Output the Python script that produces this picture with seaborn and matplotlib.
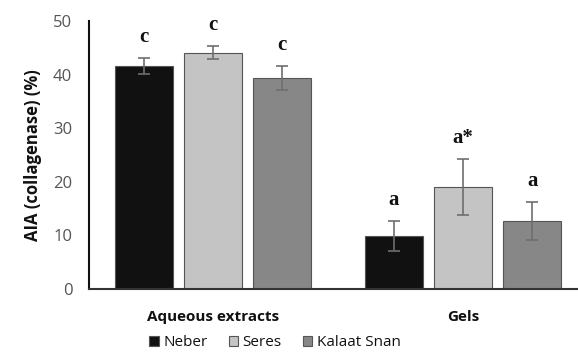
import matplotlib
matplotlib.use("Agg")
import matplotlib.pyplot as plt
import seaborn as sns
import pandas as pd
import numpy as np

groups = ["Aqueous extracts", "Gels"]
varieties = ["Neber", "Seres", "Kalaat Snan"]
means = {"Neber": [41.6, 9.9], "Seres": [44.1, 19.0], "Kalaat Snan": [39.4, 12.7]}
errs = {"Neber": [1.5, 2.8], "Seres": [1.2, 5.2], "Kalaat Snan": [2.2, 3.5]}
letters = {"Neber": ["c", "a"], "Seres": ["c", "a*"], "Kalaat Snan": ["c", "a"]}
colors = {"Neber": "#111111", "Seres": "#c4c4c4", "Kalaat Snan": "#878787"}

rows = []
for v in varieties:
    for i, g in enumerate(groups):
        rows.append({"group": g, "variety": v, "value": means[v][i]})
df = pd.DataFrame(rows)

sns.set_style("white")
plt.rcParams["font.family"] = ["Open Sans", "DejaVu Sans"]

fig = plt.figure(figsize=(5.78, 3.55), dpi=100)
ax = fig.add_axes([0.154, 0.186, 0.846, 0.755])

sns.barplot(data=df, x="group", y="value", hue="variety", order=groups,
            hue_order=varieties, palette=colors, width=0.83, gap=0.17,
            edgecolor="#555555", linewidth=0.8, errorbar=None, ax=ax, legend=True)

# error bars and letters
for j, v in enumerate(varieties):
    cont = ax.containers[j]
    for i, p in enumerate(cont.patches):
        xc = p.get_x() + p.get_width() / 2
        h = p.get_height()
        ax.errorbar(xc, h, yerr=errs[v][i], color="#6e6e6e", capsize=4,
                    elinewidth=1.2, capthick=1.2, zorder=5)
        ax.annotate(letters[v][i], (xc, h + errs[v][i]), xytext=(0, 8),
                    textcoords="offset points", ha="center", va="bottom",
                    fontsize=15, fontweight="bold", family="Liberation Serif",
                    color="#111111")

ax.set_ylim(0, 50)
ax.set_yticks([0, 10, 20, 30, 40, 50])
ax.set_xlim(-0.496, 1.46)
ax.set_xlabel("")
ax.set_ylabel("AIA (collagenase) (%)", fontsize=12, fontweight="bold", color="#111111", labelpad=8)
for s in ["top", "right"]:
    ax.spines[s].set_visible(False)
ax.spines["left"].set_color("#111111")
ax.spines["bottom"].set_color("#333333")
ax.spines["left"].set_linewidth(1.5)
ax.spines["bottom"].set_linewidth(1.5)
ax.tick_params(axis="y", direction="in", length=5, width=1.2, colors="#111111",
               labelcolor="#555555", labelsize=12, pad=12)
ax.tick_params(axis="x", length=0, labelsize=11, pad=15)
for t in ax.get_xticklabels():
    t.set_fontweight("bold")
    t.set_color("#111111")

leg = ax.legend(loc="center", bbox_to_anchor=(275 / 578, 1 - 343 / 355),
                bbox_transform=fig.transFigure, ncol=3, frameon=False,
                fontsize=11, handlelength=0.6, handleheight=0.6, handletextpad=0.3,
                columnspacing=1.4, borderpad=0)
for t in leg.get_texts():
    t.set_color("#111111")

fig.savefig("out.png", dpi=100)
